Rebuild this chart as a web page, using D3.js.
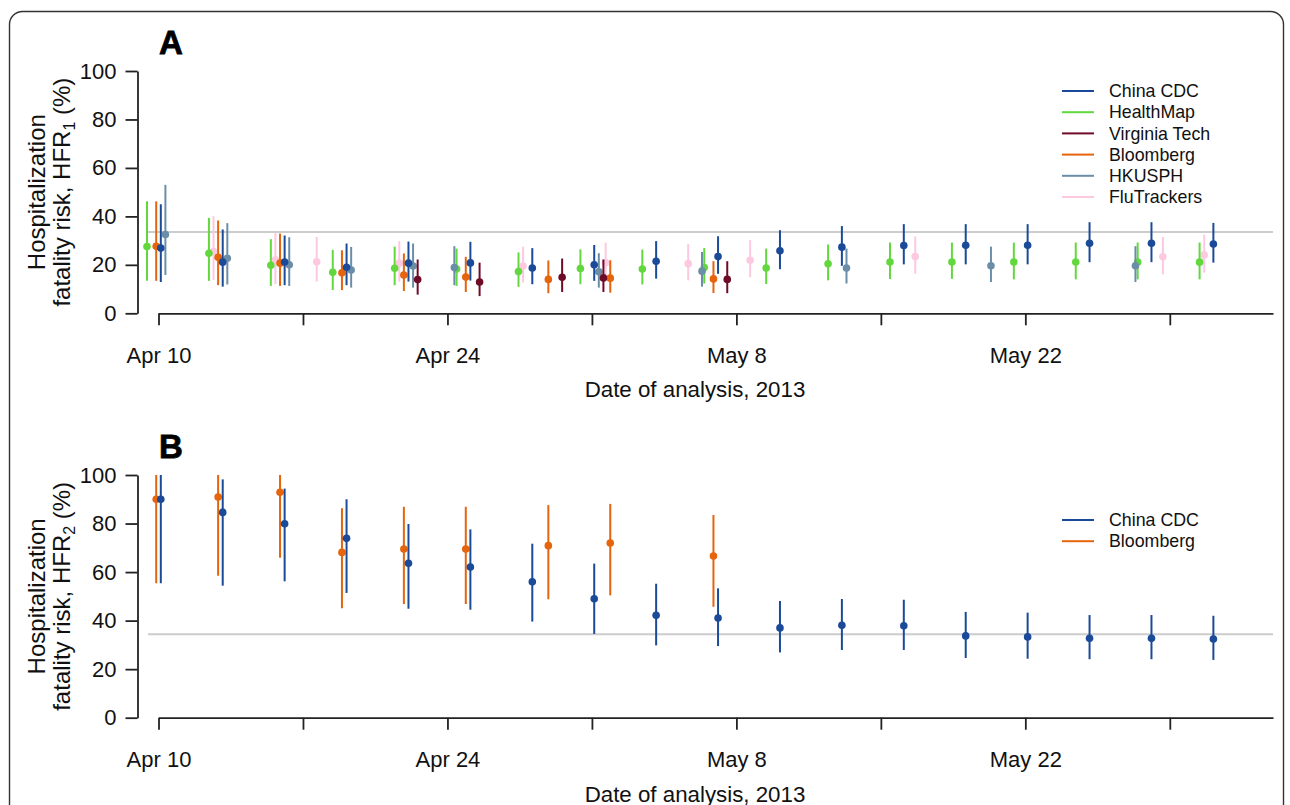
<!DOCTYPE html>
<html>
<head>
<meta charset="utf-8">
<script src="https://cdn.jsdelivr.net/npm/d3@7"></script>
<style>
  html, body { margin: 0; padding: 0; background: #fff; }
  svg { display: block; font-family: "Liberation Sans", Arial, Helvetica, sans-serif; }
</style>
</head>
<body>
<svg id="chart" width="1290" height="805"></svg>
<script>
// ---------------- DATA ----------------
const tickDates = ["2013-04-10","2013-04-17","2013-04-24","2013-05-01","2013-05-08","2013-05-15","2013-05-22","2013-05-29"];
const tickLabels = ["Apr 10","","Apr 24","","May 8","","May 22",""];
const yTicks = [0, 20, 40, 60, 80, 100];
const xDomain = ["2013-04-10", "2013-06-03"];

// Panel A: HFR1
const cdcDatesA = ["2013-04-10","2013-04-13","2013-04-16","2013-04-19","2013-04-22","2013-04-25","2013-04-28","2013-05-01","2013-05-04","2013-05-07","2013-05-10","2013-05-13","2013-05-16","2013-05-19","2013-05-22","2013-05-25","2013-05-28","2013-05-31"];
const cdcEstA = [26.9,21.1,21.2,19.0,20.7,20.8,18.7,20.0,21.5,23.4,25.8,27.3,28.0,28.1,28.1,28.9,28.9,28.6];
const cdcLoA  = [12.9,11.0,11.6,11.6,13.1,13.5,12.0,13.4,14.3,16.3,18.2,19.6,20.2,20.2,20.2,21.1,21.1,20.9];
const cdcHiA  = [45.0,34.6,32.1,28.8,29.6,29.5,26.9,28.2,29.8,31.8,34.3,36.0,36.8,36.8,36.8,37.6,37.6,37.3];

const hmDatesA = ["2013-04-10","2013-04-13","2013-04-16","2013-04-19","2013-04-22","2013-04-25","2013-04-28","2013-05-01","2013-05-04","2013-05-07","2013-05-10","2013-05-13","2013-05-16","2013-05-19","2013-05-22","2013-05-25","2013-05-28","2013-05-31"];
const hmEstA = [27.6,24.8,19.8,16.9,18.6,18.3,17.2,18.5,18.3,18.9,18.7,20.4,21.2,21.2,21.2,21.2,21.1,21.1];
const hmLoA  = [13.4,13.4,11.3,9.6,11.6,11.3,10.9,12.0,11.9,12.3,12.1,13.6,14.2,14.2,14.0,14.0,14.0,14.0];
const hmHiA  = [46.2,39.4,30.6,26.2,27.5,26.7,25.1,26.4,26.3,26.9,26.7,28.4,29.2,29.2,29.2,29.2,29.2,29.2];

const vtDatesA = ["2013-04-22","2013-04-25","2013-04-29","2013-05-01","2013-05-07"];
const vtEstA = [13.9,12.9,14.9,14.6,14.0];
const vtLoA  = [7.7,7.1,8.8,8.8,8.3];
const vtHiA  = [22.2,20.9,22.6,22.2,21.5];

const bbDatesA = ["2013-04-10","2013-04-13","2013-04-16","2013-04-19","2013-04-22","2013-04-25","2013-04-29","2013-05-02","2013-05-07"];
const bbEstA = [27.7,23.1,20.7,16.7,15.8,15.0,14.0,14.5,14.2];
const bbLoA  = [13.4,11.6,11.3,9.6,9.2,8.8,8.3,8.5,8.4];
const bbHiA  = [46.2,38.3,32.9,26.0,24.7,23.3,21.8,21.9,21.5];

const hkDatesA = ["2013-04-10","2013-04-13","2013-04-16","2013-04-19","2013-04-22","2013-04-24","2013-05-01","2013-05-06","2013-05-13","2013-05-20","2013-05-27"];
const hkEstA = [32.5,22.7,20.0,17.9,19.5,18.9,17.1,17.4,18.7,19.6,19.6];
const hkLoA  = [15.8,11.9,11.3,10.6,10.6,11.6,10.6,11.0,12.3,12.9,12.9];
const hkHiA  = [53.0,37.2,31.4,27.4,28.8,27.7,24.8,25.3,26.7,27.5,27.7];

const ftDatesA = ["2013-04-13","2013-04-16","2013-04-18","2013-04-22","2013-04-28","2013-05-02","2013-05-06","2013-05-09","2013-05-17","2013-05-29","2013-05-31"];
const ftEstA = [25.5,22.0,21.3,20.7,19.5,20.9,20.5,21.9,23.4,23.3,24.1];
const ftLoA  = [13.8,12.0,13.1,13.1,12.7,14.0,13.6,14.9,16.3,16.1,16.8];
const ftHiA  = [40.1,33.3,31.5,29.8,27.5,29.2,28.6,30.2,31.7,31.5,32.5];

const refA = 33.6;

// Panel B: HFR2
const cdcDatesB = ["2013-04-10","2013-04-13","2013-04-16","2013-04-19","2013-04-22","2013-04-25","2013-04-28","2013-05-01","2013-05-04","2013-05-07","2013-05-10","2013-05-13","2013-05-16","2013-05-19","2013-05-22","2013-05-25","2013-05-28","2013-05-31"];
const cdcEstB = [90.0,84.6,79.9,73.9,63.6,62.1,56.0,49.0,42.2,41.1,37.0,38.1,37.9,33.7,33.3,32.7,32.7,32.4];
const cdcLoB  = [55.4,54.4,56.2,51.4,44.9,44.5,39.6,34.5,29.8,29.5,26.9,27.9,27.9,24.6,24.3,24.1,24.1,23.8];
const cdcHiB  = [100,98.2,94.4,90.0,79.8,77.6,71.7,63.5,55.2,53.3,48.1,48.9,48.6,43.6,43.3,42.3,42.3,42.0];

const bbDatesB = ["2013-04-10","2013-04-13","2013-04-16","2013-04-19","2013-04-22","2013-04-25","2013-04-29","2013-05-02","2013-05-07"];
const bbEstB = [90.0,90.9,92.9,68.1,69.5,69.5,70.9,72.0,66.6];
const bbLoB  = [55.4,58.5,65.9,45.1,46.8,46.8,48.8,50.4,45.7];
const bbHiB  = [100,100,100,86.3,86.9,86.9,87.6,88.1,83.5];

const refB = 34.4;

// ---------------- STYLE ----------------
const sourceStyle = {
  "China CDC":     { color: "#1a4a98", dodge: 2.3 },
  "HealthMap":     { color: "#62d83e", dodge: -11.5 },
  "Virginia Tech": { color: "#6e0b27", dodge: 11.5 },
  "Bloomberg":     { color: "#e5640c", dodge: -2.3 },
  "HKUSPH":        { color: "#6b8ea8", dodge: 6.9 },
  "FluTrackers":   { color: "#fdc9e0", dodge: -6.9 }
};

const parse = d3.utcParse("%Y-%m-%d");
function series(name, dates, est, lo, hi) {
  return { name, points: dates.map((d, i) => ({ date: parse(d), est: est[i], lo: lo[i], hi: hi[i] })) };
}

const panelA = {
  label: "A", sub: "1", top: 71, bottom: 313.3, ref: refA,
  legendOrder: ["China CDC","HealthMap","Virginia Tech","Bloomberg","HKUSPH","FluTrackers"],
  legendY: 91,
  drawOrder: [
    series("FluTrackers", ftDatesA, ftEstA, ftLoA, ftHiA),
    series("HealthMap", hmDatesA, hmEstA, hmLoA, hmHiA),
    series("Bloomberg", bbDatesA, bbEstA, bbLoA, bbHiA),
    series("HKUSPH", hkDatesA, hkEstA, hkLoA, hkHiA),
    series("Virginia Tech", vtDatesA, vtEstA, vtLoA, vtHiA),
    series("China CDC", cdcDatesA, cdcEstA, cdcLoA, cdcHiA)
  ]
};
const panelB = {
  label: "B", sub: "2", top: 475, bottom: 717.7, ref: refB,
  legendOrder: ["China CDC","Bloomberg"],
  legendY: 520,
  drawOrder: [
    series("Bloomberg", bbDatesB, bbEstB, bbLoB, bbHiB),
    series("China CDC", cdcDatesB, cdcEstB, cdcLoB, cdcHiB)
  ]
};

const svg = d3.select("#chart");

// outer rounded border
svg.append("rect")
  .attr("x", 9.5).attr("y", 11.5).attr("width", 1274).attr("height", 900)
  .attr("rx", 13).attr("fill", "none").attr("stroke", "#333").attr("stroke-width", 1.4);

const x = d3.scaleUtc().domain(xDomain.map(parse)).range([158.5, 1273]);
const yAxisX = 137.5;
const tickFont = 22;

function drawPanel(p) {
  const g = svg.append("g");
  const y = d3.scaleLinear().domain([0, 100]).range([p.bottom, p.top]);

  // reference line
  g.append("line")
    .attr("x1", 148).attr("x2", 1273)
    .attr("y1", y(p.ref)).attr("y2", y(p.ref))
    .attr("stroke", "#cccccc").attr("stroke-width", 2);

  // y axis
  const ya = g.append("g").attr("transform", `translate(${yAxisX},0)`)
    .call(d3.axisLeft(y).tickValues(yTicks).tickSize(12).tickSizeOuter(0).tickPadding(9));
  // x axis
  const xa = g.append("g").attr("transform", `translate(0,${y(0)})`)
    .call(d3.axisBottom(x).tickValues(tickDates.map(parse))
      .tickFormat((d, i) => tickLabels[i]).tickSize(12).tickSizeOuter(0).tickPadding(22));
  [ya, xa].forEach(a => {
    a.selectAll("path.domain").attr("stroke", "#222").attr("stroke-width", 1.8);
    a.selectAll(".tick line").attr("stroke", "#222").attr("stroke-width", 1.8);
    a.selectAll("text").attr("font-size", tickFont).attr("fill", "#111")
      .attr("font-family", "Liberation Sans, Arial, sans-serif");
  });

  // x title
  g.append("text")
    .attr("x", 695).attr("y", y(0) + 84)
    .attr("text-anchor", "middle").attr("font-size", 22.3).attr("fill", "#111")
    .text("Date of analysis, 2013");

  // y title (two lines)
  const yc = (p.top + p.bottom) / 2;
  g.append("text")
    .attr("transform", `translate(37,${yc}) rotate(-90)`)
    .attr("text-anchor", "middle").attr("dy", "0.35em")
    .attr("font-size", 24).attr("fill", "#111")
    .text("Hospitalization");
  const t2 = g.append("text")
    .attr("transform", `translate(62,${yc}) rotate(-90)`)
    .attr("text-anchor", "middle").attr("dy", "0.35em")
    .attr("font-size", 24).attr("fill", "#111");
  t2.append("tspan").text("fatality risk, HFR");
  t2.append("tspan").attr("font-size", 16).attr("dy", 5).text(p.sub);
  t2.append("tspan").attr("dy", -5).text(" (%)");

  // panel label
  g.append("text")
    .attr("x", 159).attr("y", p.top - 17.5)
    .attr("font-size", 33).attr("font-weight", "bold").attr("fill", "#000")
    .attr("stroke", "#000").attr("stroke-width", 0.8)
    .text(p.label);

  // marks
  p.drawOrder.forEach(s => {
    const st = sourceStyle[s.name];
    const sg = g.append("g");
    sg.selectAll("line.err").data(s.points).join("line")
      .attr("class", "err")
      .attr("x1", d => x(d.date) + st.dodge).attr("x2", d => x(d.date) + st.dodge)
      .attr("y1", d => y(d.lo)).attr("y2", d => y(d.hi))
      .attr("stroke", st.color).attr("stroke-width", 2);
    sg.selectAll("circle").data(s.points).join("circle")
      .attr("cx", d => x(d.date) + st.dodge).attr("cy", d => y(d.est))
      .attr("r", 3.8).attr("fill", st.color);
  });

  // legend
  const lg = g.append("g");
  p.legendOrder.forEach((name, i) => {
    const yy = p.legendY + i * 21.2;
    lg.append("line").attr("x1", 1062).attr("x2", 1094).attr("y1", yy).attr("y2", yy)
      .attr("stroke", sourceStyle[name].color).attr("stroke-width", 2);
    lg.append("text").attr("x", 1109).attr("y", yy).attr("dy", "0.35em")
      .attr("font-size", 17.8).attr("fill", "#111").text(name);
  });
}

drawPanel(panelA);
drawPanel(panelB);
</script>
</body>
</html>
